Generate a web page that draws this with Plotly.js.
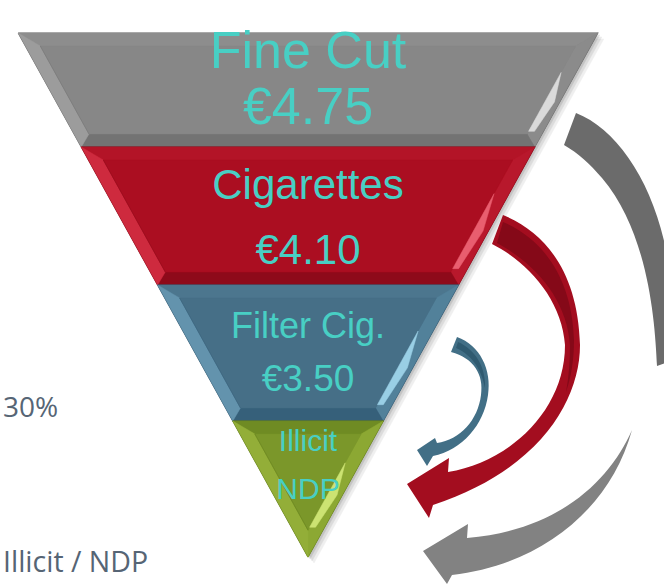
<!DOCTYPE html>
<html><head><meta charset="utf-8">
<script src="https://cdn.plot.ly/plotly-3.0.1.min.js"></script>
<style>html,body{margin:0;padding:0;background:#fff;overflow:hidden}#chart{width:664px;height:585px}</style>
</head><body><div id="chart"></div>
<script>
// ---- data ----
const tierNames  = ['Fine Cut', 'Cigarettes', 'Filter Cig.', 'Illicit'];
const tierValues = ['€4.75', '€4.10', '€3.50', 'NDP'];
const sideLabels = ['30%', 'Illicit / NDP'];

// ---- styles ----
const faceColors   = ['#878787', '#AB0E21', '#466F87', '#7B972A'];
const topColors    = ['#8D8D8D', '#B31427', '#4C768E', '#6F8B23'];
const leftColors   = ['#9C9C9C', '#CE2A3E', '#6393AD', '#93AE38'];
const rightColors  = ['#8B8B8B', '#B8182C', '#52819A', '#8CA833'];
const bottomColors = ['#737373', '#8E0A1A', '#36607A', '#66801E'];
const edgeColors   = ['#666666', '#7E0816', '#2F5268', '#5C741A'];
const shineColors  = ['#E8E8E8', '#F26B7B', '#A6DDF3', '#D8EE7E'];
const textColor = '#48CFC4';
const sideColor = '#566575';
const nameFont  = [52, 42, 36, 30];
const valueFont = [52, 42, 37, 30];

// ---- geometry (pixel-like axes) ----
const W = 664, H = 585;
const APEX = {x: 308, y: 557};
const SLOPE = 0.553;
const EDGES = [33, 147, 285, 421, 557];
const BEVEL = 13;
const NAME_Y  = [55, 188, 329, 443];
const VALUE_Y = [111, 253, 382, 491];

const xL = y => APEX.x - SLOPE * (APEX.y - y);
const xR = y => APEX.x + SLOPE * (APEX.y - y);
const ds = BEVEL * Math.sqrt(1 + SLOPE * SLOPE);

function poly(pts, color, opacity) {
  return {
    type: 'scatter', mode: 'lines', hoverinfo: 'skip',
    x: pts.map(p => p[0]).concat([pts[0][0]]),
    y: pts.map(p => p[1]).concat([pts[0][1]]),
    fill: 'toself', fillcolor: color, opacity: opacity === undefined ? 1 : opacity,
    line: {color: color, width: 0.5}
  };
}

const traces = [];
// soft shadow
[[6, 0.06], [4, 0.08], [2, 0.10]].forEach(([o, a]) => {
  traces.push(poly([[xL(EDGES[0]) + o, EDGES[0] + o], [xR(EDGES[0]) + o, EDGES[0] + o], [APEX.x + o, APEX.y + o]], '#000', a));
});

tierNames.forEach((name, i) => {
  const y0 = EDGES[i], y1 = EDGES[i + 1];
  const last = (i === tierNames.length - 1);
  const TL = [xL(y0), y0], TR = [xR(y0), y0];
  const BR = [xR(y1), y1], BL = [xL(y1), y1];
  const iy0 = y0 + BEVEL;
  const iy1 = last ? APEX.y - ds / SLOPE : y1 - BEVEL;
  const iTL = [xL(iy0) + ds, iy0], iTR = [xR(iy0) - ds, iy0];
  const iBR = [xR(iy1) - ds, iy1], iBL = [xL(iy1) + ds, iy1];
  const base = poly(last ? [TL, TR, BR] : [TL, TR, BR, BL], faceColors[i]);
  base.line = {color: edgeColors[i], width: 1.2};
  traces.push(base);
  traces.push(poly([TL, TR, iTR, iTL], topColors[i]));
  traces.push(poly([TR, BR, iBR, iTR], rightColors[i]));
  if (!last) traces.push(poly([BR, BL, iBL, iBR], bottomColors[i]));
  traces.push(poly([BL, TL, iTL, iBL], leftColors[i]));
  traces.push(poly(last ? [iTL, iTR, iBR] : [iTL, iTR, iBR, iBL], faceColors[i]));
  const a = iy0 + (iy1 - iy0) * 0.30, b = iy0 + (iy1 - iy0) * 0.97;
  const m = (a + b) / 2;
  traces.push(poly([
    [xR(a) - ds, a],
    [xR(m) - ds * 0.35, m],
    [xR(b) - ds * 0.6, b],
    [xR(b) - ds, b],
  ], shineColors[i], 0.85));
  traces.push({type: 'scatter', mode: 'lines', hoverinfo: 'skip',
    x: [iTL[0], iBL[0]], y: [iTL[1], iBL[1]],
    line: {color: bottomColors[i], width: 1}, opacity: 0.5});
});

// labels inside the funnel
traces.push({
  type: 'scatter', mode: 'text', hoverinfo: 'skip',
  x: tierNames.map(() => APEX.x), y: NAME_Y, text: tierNames,
  textposition: 'middle center',
  textfont: {family: 'Liberation Sans, Arial, sans-serif', size: nameFont, color: textColor}
});
traces.push({
  type: 'scatter', mode: 'text', hoverinfo: 'skip',
  x: tierValues.map(() => APEX.x), y: VALUE_Y, text: tierValues,
  textposition: 'middle center',
  textfont: {family: 'Liberation Sans, Arial, sans-serif', size: valueFont, color: textColor}
});

// curved arrows (decoration)
const shapes = [
  {type: 'path', xref: 'x', yref: 'y', line: {width: 0}, fillcolor: '#6B6B6B',
   path: 'M 576 113 C 625 132 668 205 672 300 L 668 362 L 657 366 C 655 320 648 232 602 178 C 590 164 578 153 564 145 Z'},
  {type: 'path', xref: 'x', yref: 'y', line: {width: 0}, fillcolor: '#828282',
   path: 'M 632 430 C 610 480 560 530 467 538 L 468 524 L 423 551 L 447 584 L 452 575 C 540 565 610 510 632 430 Z'},
  {type: 'path', xref: 'x', yref: 'y', line: {width: 0}, fillcolor: '#A30D1F',
   path: 'M 503 215 C 545 232 578 272 580 345 C 580 400 540 470 433 505 L 429 518 L 407 484 L 449 458 L 448 472 C 510 462 565 410 565 345 C 562 300 528 262 492 244 Z'},
  {type: 'path', xref: 'x', yref: 'y', line: {width: 0}, fillcolor: '#850918',
   path: 'M 503 222 C 541 238 572 276 574 340 C 574 360 571 378 566 392 C 569 376 570 360 570 345 C 567 300 536 264 497 243 Z'},
  {type: 'path', xref: 'x', yref: 'y', line: {width: 0}, fillcolor: '#426F86',
   path: 'M 457 337 C 480 345 492 370 488 395 C 484 425 462 450 433 456 L 427 466 L 417 450 L 435 438 L 437 443 C 460 440 478 420 481 395 C 484 375 474 358 451 352 Z'},
  {type: 'path', xref: 'x', yref: 'y', line: {width: 0}, fillcolor: '#2F5A70',
   path: 'M 458 342 C 476 350 486 368 485 388 C 482 372 474 356 456 348 Z'}
];

const annotations = [
  {x: 1, y: 406, xref: 'x', yref: 'y', text: sideLabels[0], showarrow: false, xanchor: 'left', yanchor: 'middle',
   font: {family: 'Open Sans, sans-serif', size: 28, color: sideColor}},
  {x: 1, y: 561, xref: 'x', yref: 'y', text: sideLabels[1], showarrow: false, xanchor: 'left', yanchor: 'middle',
   font: {family: 'Open Sans, sans-serif', size: 28.5, color: sideColor}}
];

const layout = {
  width: W, height: H,
  margin: {l: 0, r: 0, t: 0, b: 0, pad: 0},
  paper_bgcolor: '#ffffff', plot_bgcolor: '#ffffff',
  showlegend: false,
  xaxis: {range: [0, W], visible: false, fixedrange: true},
  yaxis: {range: [H, 0], visible: false, fixedrange: true},
  shapes: shapes,
  annotations: annotations
};

Plotly.newPlot('chart', traces, layout, {staticPlot: true, displayModeBar: false});
</script>
</body></html>
